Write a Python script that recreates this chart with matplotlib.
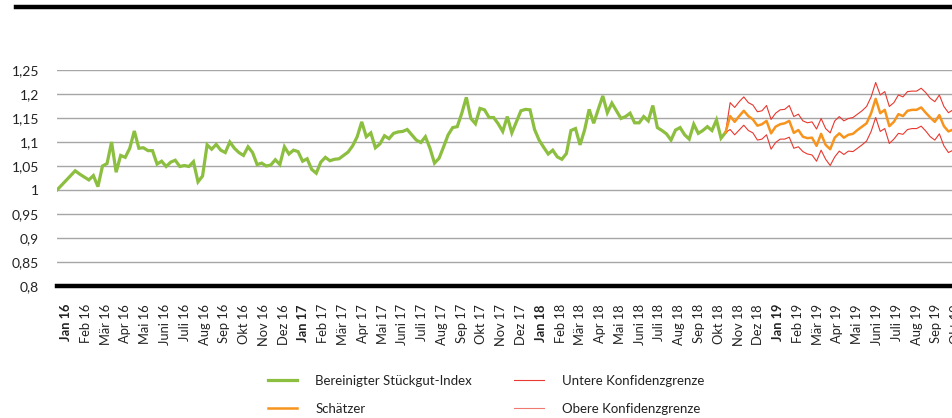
import matplotlib
matplotlib.use("Agg")
import matplotlib.pyplot as plt
from matplotlib.lines import Line2D
from matplotlib.ticker import FuncFormatter

plt.rcParams["font.family"] = ["Lato", "DejaVu Sans"]

# Bereinigter Stückgut-Index, wöchentlich ab Jan 2016
index_values = [
    1.000, 1.010, 1.020, 1.030, 1.040, 1.033, 1.027, 1.021, 1.030, 1.007,
    1.050, 1.055, 1.100, 1.037, 1.072, 1.068, 1.087, 1.123, 1.087, 1.088,
    1.082, 1.082, 1.054, 1.060, 1.049, 1.058, 1.062, 1.049, 1.051, 1.049,
    1.059, 1.017, 1.029, 1.094, 1.085, 1.095, 1.083, 1.078, 1.100, 1.087,
    1.078, 1.072, 1.090, 1.078, 1.053, 1.056, 1.050, 1.052, 1.063, 1.053,
    1.090, 1.075, 1.083, 1.080, 1.060, 1.065, 1.043, 1.035, 1.058, 1.068,
    1.061, 1.064, 1.065, 1.072, 1.079, 1.092, 1.111, 1.142, 1.111, 1.119,
    1.088, 1.096, 1.113, 1.107, 1.118, 1.121, 1.122, 1.126, 1.115, 1.104,
    1.099, 1.111, 1.087, 1.056, 1.066, 1.090, 1.115, 1.130, 1.132, 1.160,
    1.193, 1.149, 1.138, 1.170, 1.167, 1.151, 1.151, 1.138, 1.122, 1.153,
    1.119, 1.142, 1.165, 1.168, 1.167, 1.126, 1.104, 1.089, 1.075, 1.083,
    1.069, 1.064, 1.076, 1.124, 1.128, 1.094, 1.125, 1.168, 1.139, 1.168,
    1.196, 1.161, 1.181, 1.165, 1.149, 1.153, 1.160, 1.140, 1.140, 1.153,
    1.144, 1.176, 1.130, 1.124, 1.117, 1.104, 1.125, 1.130, 1.115, 1.106,
    1.137, 1.118, 1.124, 1.132, 1.124, 1.146, 1.108, 1.120,
]

# Prognose (beginnt am letzten Indexwert)
forecast = [
    1.120, 1.154, 1.142, 1.154, 1.165, 1.154, 1.147, 1.134, 1.137, 1.144,
    1.118, 1.132, 1.137, 1.139, 1.144, 1.119, 1.125, 1.111, 1.108, 1.109,
    1.092, 1.117, 1.094, 1.085, 1.109, 1.118, 1.109, 1.115, 1.117, 1.125,
    1.132, 1.139, 1.160, 1.190, 1.160, 1.167, 1.133, 1.142, 1.158, 1.154,
    1.165, 1.167, 1.167, 1.172, 1.161, 1.151, 1.142, 1.156, 1.133, 1.122,
    1.126,
]
upper_bound = [
    1.120, 1.182, 1.172, 1.184, 1.194, 1.182, 1.177, 1.163, 1.165, 1.176,
    1.147, 1.160, 1.167, 1.168, 1.176, 1.153, 1.158, 1.144, 1.140, 1.142,
    1.127, 1.149, 1.128, 1.119, 1.144, 1.153, 1.144, 1.149, 1.151, 1.158,
    1.165, 1.174, 1.194, 1.224, 1.198, 1.205, 1.174, 1.182, 1.198, 1.194,
    1.205, 1.206, 1.206, 1.212, 1.203, 1.191, 1.184, 1.198, 1.174, 1.161,
    1.167,
]
lower_bound = [
    1.120, 1.126, 1.115, 1.125, 1.135, 1.124, 1.119, 1.104, 1.106, 1.115,
    1.085, 1.099, 1.106, 1.106, 1.110, 1.087, 1.090, 1.080, 1.075, 1.073,
    1.060, 1.083, 1.064, 1.051, 1.069, 1.081, 1.074, 1.081, 1.080, 1.087,
    1.094, 1.102, 1.122, 1.151, 1.122, 1.128, 1.097, 1.106, 1.118, 1.116,
    1.126, 1.128, 1.128, 1.133, 1.123, 1.111, 1.104, 1.117, 1.092, 1.078,
    1.083,
]

months = ["Jan", "Feb", "Mär", "Apr", "Mai", "Juni", "Juli", "Aug",
          "Sep", "Okt", "Nov", "Dez"]
years = ["16", "17", "18", "19"]
month_labels = [f"{m} {y}" for y in years for m in months][:46]

y_ticks = [0.8, 0.85, 0.9, 0.95, 1.0, 1.05, 1.1, 1.15, 1.2, 1.25]

GREEN = "#8cbf3f"
ORANGE = "#f7941d"
RED = "#e8382f"
RED_LIGHT = "#ef7a70"

n_hist = len(index_values)
x_hist = list(range(n_hist))
x_fc = list(range(n_hist - 1, n_hist - 1 + len(forecast)))

W, H = 953, 418
fig = plt.figure(figsize=(W / 100, H / 100), dpi=100)

# axes run past the right edge of the picture, as in the cropped original
left_px, right_px_data = 57, 953
x_max = 200
width_px = (right_px_data - left_px) * x_max / (x_fc[-1])
ax = fig.add_axes([left_px / W, 1 - 286 / H, width_px / W, (286 - 70) / H])

ax.plot(x_hist, index_values, color=GREEN, lw=2.3, solid_joinstyle="miter", zorder=3)
ax.plot(x_fc, upper_bound, color=RED, lw=0.8, zorder=3)
ax.plot(x_fc, lower_bound, color=RED, lw=0.8, zorder=3)
ax.plot(x_fc, forecast, color=ORANGE, lw=1.8, zorder=4)

ax.set_xlim(0, x_max)
ax.set_ylim(0.8, 1.25)
for s in ax.spines.values():
    s.set_visible(False)

ax.set_yticks(y_ticks)
ax.yaxis.set_major_formatter(FuncFormatter(lambda v, p: f"{v:g}".replace(".", ",")))
ax.grid(axis="y", color="#a6a6a6", lw=1.0)
ax.axhline(0.8, color="black", lw=3.2, clip_on=False, zorder=5)
ax.tick_params(axis="y", length=0, pad=13, labelsize=10, labelcolor="#222222")

# monthly labels, placed mid-month on the weekly scale
month_pos = [2 + i * 52.18 / 12 for i in range(len(month_labels))]
ax.set_xticks(month_pos)
ax.set_xticklabels(month_labels, rotation=90, fontsize=9.3, color="#222222")
ax.tick_params(axis="x", length=0, pad=13)
for lbl in ax.get_xticklabels():
    if lbl.get_text().startswith("Jan"):
        lbl.set_fontweight("bold")

# heavy rule under the (cropped) title
fig.add_artist(Line2D([16 / W, 1.0], [1 - 7 / H, 1 - 7 / H],
                      color="black", lw=3.2, transform=fig.transFigure))

handles = [
    Line2D([], [], color=GREEN, lw=2.3),
    Line2D([], [], color=ORANGE, lw=1.8),
    Line2D([], [], color=RED, lw=0.8),
    Line2D([], [], color=RED_LIGHT, lw=0.8),
]
labels = ["Bereinigter Stückgut-Index", "Schätzer",
          "Untere Konfidenzgrenze", "Obere Konfidenzgrenze"]
fig.legend(handles, labels, ncol=2, frameon=False, loc="upper left",
           bbox_to_anchor=(268 / W, 1 - 375 / H), borderpad=0, borderaxespad=0,
           handlelength=2.2, handletextpad=1.4, columnspacing=3.2,
           labelspacing=1.2, fontsize=9.5, labelcolor="#222222")

fig.savefig("out.png", dpi=100)
